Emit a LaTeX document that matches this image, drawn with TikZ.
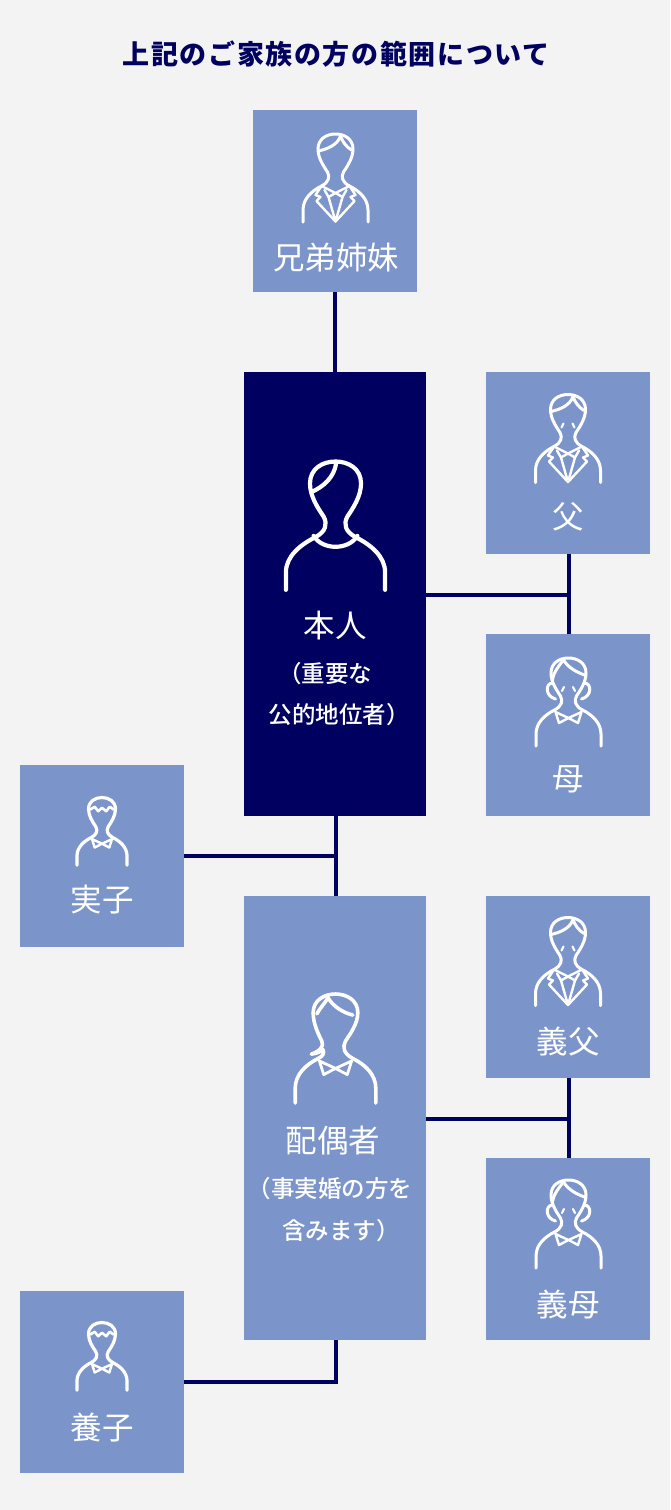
\documentclass[tikz,border=0pt]{standalone}
\usepackage{fontspec}
\setmainfont{Noto Sans CJK JP}
\newfontfamily\medfont{Noto Sans CJK JP Medium}
\usetikzlibrary{calc}

\definecolor{pagegray}{HTML}{F3F3F3}
\definecolor{boxblue}{HTML}{7B95CB}
\definecolor{darknavy}{HTML}{000060}

\newcommand{\bodyline}{(-32.5,88) -- (-32.5,76) .. controls (-32.5,65) and (-24,57) .. (-14,52) .. controls (-6.5,48) and (-5.5,43) .. (-8,38) .. controls (-12,32) and (-17.5,24) .. (-17.5,15) .. controls (-17.5,5) and (-9,0) .. (0,0) .. controls (9,0) and (17.5,5) .. (17.5,15) .. controls (17.5,24) and (12,32) .. (8,38) .. controls (5.5,43) and (6.5,48) .. (14,52) .. controls (24,57) and (32.5,65) .. (32.5,76) -- (32.5,88)}
\newcommand{\bowcollar}{(-13,54) -- (-9.5,65) -- (0,60) -- (9.5,65) -- (13,54) -- (0,60) -- cycle}

\tikzset{
	figline/.style = {draw=white, line width=3pt, line cap=round, line join=round},
	relbox/.style = {rectangle, fill=boxblue, inner sep=0pt, minimum width=164pt, minimum height=182pt},
	widebox/.style = {rectangle, inner sep=0pt, minimum width=182pt, minimum height=444pt},
	bigtext/.style = {text=white, font=\fontsize{31.5}{32}\selectfont, inner sep=0pt},
	smalltext/.style = {text=white, font=\medfont\fontsize{23.5}{24}\selectfont, inner sep=0pt},
	linkline/.style = {draw=darknavy, line width=4pt},
	pics/manfig/.style = {code={
		\draw[figline] \bodyline;
		\draw[figline] (-17,17) .. controls (-8,15) and (2,11) .. (5,2) .. controls (7,8) and (11,13) .. (16,16);
		\draw[figline, line width=2.4pt] (-14,52) -- (-20,61) -- (-15,63) -- (-19,67) -- (0,87.5) -- (19,67) -- (15,63) -- (20,61) -- (14,52) -- (0,59) -- cycle;
		\draw[figline, line width=2.4pt] (-11,56) -- (-7,63) -- (0,59) -- (7,63) -- (11,56);
		\draw[figline, line width=2.4pt] (-7,63) -- (0,87.5) -- (7,63);
	}},
	pics/eyelines/.style = {code={
		\draw[figline, line width=2.2pt] (-6.5,33) -- (-4.5,29);
		\draw[figline, line width=2.2pt] (4.5,29) -- (6.5,33);
	}},
	pics/motherfig/.style = {code={
		\draw[figline] \bodyline;
		\draw[figline] (-5,2) .. controls (-9,7) and (-15,14) .. (-16,22);
		\draw[figline] (-5,2) .. controls (0,10) and (8,14) .. (16,17);
		\draw[figline] (-16,25) .. controls (-23,25) and (-24,38) .. (-13,41);
		\draw[figline] (16,25) .. controls (23,25) and (24,38) .. (13,41);
		\draw[figline, line width=2.4pt] \bowcollar;
		\draw[figline, line width=2.2pt] (-6.5,33) -- (-4.5,29);
		\draw[figline, line width=2.2pt] (4.5,29) -- (6.5,33);
	}},
	pics/selffig/.style = {code={
		\draw[figline, line width=4.2pt] (-34,88) -- (-34,76) .. controls (-34,65) and (-24,57) .. (-14,52) .. controls (-6.5,48) and (-5.5,43) .. (-8,38) .. controls (-12,32) and (-17.5,24) .. (-17.5,15) .. controls (-17.5,5) and (-9,0) .. (0,0) .. controls (9,0) and (17.5,5) .. (17.5,15) .. controls (17.5,24) and (12,32) .. (8,38) .. controls (5.5,43) and (6.5,48) .. (14,52) .. controls (24,57) and (34,65) .. (34,76) -- (34,88);
		\draw[figline, line width=4.2pt] (0.5,1) .. controls (-1,11) and (-8,17) .. (-16.5,21);
		\draw[figline, line width=4.2pt] (-15,51) .. controls (-9,61) and (9,61) .. (15,51);
	}},
	pics/spousefig/.style = {code={
		\draw[figline, line width=3.6pt] (-32.5,88) -- (-32.5,76) .. controls (-32.5,65) and (-24,57) .. (-14,52);
		\draw[figline, line width=3.6pt] (-14,52) .. controls (-10,50) and (-9,48) .. (-10,45) .. controls (-13,47) and (-16,48) .. (-19.5,48.5) .. controls (-13,46) and (-9,43) .. (-11,38) .. controls (-14,32) and (-18,24) .. (-18,15) .. controls (-18,5) and (-9,0) .. (0,0) .. controls (9,0) and (18,5) .. (18,15) .. controls (18,24) and (12,32) .. (8,38) .. controls (5.5,43) and (6.5,48) .. (14,52) .. controls (24,57) and (32.5,65) .. (32.5,76) -- (32.5,88);
		\draw[figline, line width=3.6pt] (-6,3) .. controls (-9,8) and (-13,12) .. (-15,16);
		\draw[figline, line width=3.6pt] (-6,3) .. controls (-2,10) and (6,15) .. (14,17);
		\draw[figline, line width=2.8pt] \bowcollar;
	}},
	pics/childfig/.style = {code={
		\draw[figline, line width=3.2pt] \bodyline;
		\draw[figline, line width=2.6pt] (-15,15.5) -- (-9.5,12) -- (-5,17.8) -- (0,13.4) -- (5.5,17.8) -- (10,12) -- (15,15.5);
		\draw[figline, line width=2.4pt] \bowcollar;
	}}
}

\begin{document}
\begin{tikzpicture}[x=1pt, y=-1pt]
\node[rectangle, fill=pagegray, inner sep=0pt, minimum width=670pt, minimum height=1510pt] (page) at (335,755) {};

\node[text=darknavy, inner sep=0pt, font=\fontsize{27}{27}\bfseries\selectfont\addfontfeature{LetterSpace=6}] (title) at (336,54) {上記のご家族の方の範囲について};

% boxes
\node[relbox] (sibling) at (335,201) {};
\node[widebox, fill=darknavy] (self) at (335,594) {};
\node[widebox, fill=boxblue] (spouse) at (335,1118) {};
\node[relbox] (father) at (568,463) {};
\node[relbox] (mother) at (568,725) {};
\node[relbox] (fatherlaw) at (568,987) {};
\node[relbox] (motherlaw) at (568,1249) {};
\node[relbox] (child) at (102,856) {};
\node[relbox] (adopted) at (102,1382) {};

% connectors
\coordinate (selfjoin) at (569,595);
\coordinate (spousejoin) at (569,1119);
\coordinate (trunktop) at (336,816);
\coordinate (trunkbot) at (336,896);
\coordinate (childjoin) at (336,856);
\coordinate (spousefoot) at (336,1340);

\draw[linkline] (sibling.south) -- (self.north);
\draw[linkline] (trunktop) -- (trunkbot);
\draw[linkline] (child.east) -- (childjoin);
\draw[linkline] (self.east |- selfjoin) -- (selfjoin);
\draw[linkline] (selfjoin |- father.south) -- (selfjoin |- mother.north);
\draw[linkline] (spouse.east |- spousejoin) -- (spousejoin);
\draw[linkline] (spousejoin |- fatherlaw.south) -- (spousejoin |- motherlaw.north);
\draw[linkline] (adopted.east) -| (spousefoot);

% figures
\pic (siblingfig) at (335.5,134) {manfig};
\pic (fatherfig) at (568,394.5) {manfig};
\pic (fathereyes) at (568,394.5) {eyelines};
\pic (motherfig) at (568.5,658) {motherfig};
\pic (fatherlawfig) at (568,917.5) {manfig};
\pic (fatherlaweyes) at (568,917.5) {eyelines};
\pic (motherlawfig) at (568.5,1180) {motherfig};
\pic[scale=1.458] (selffig) at (335.5,461.5) {selffig};
\pic[scale=1.24] (spousefig) at (335.5,994) {spousefig};
\pic[scale=0.77] (childfig) at (102,797.5) {childfig};
\pic[scale=0.77] (adoptedfig) at (102,1322.5) {childfig};

% labels
\node[bigtext] (siblingtext) at (336,258) {兄弟姉妹};
\node[bigtext] (selftext) at (335,626) {本人};
\node[smalltext] (selfnote) at (325,674) {（重要な};
\node[smalltext] (selfnotetwo) at (339,715) {公的地位者）};
\node[bigtext] (fathertext) at (568,517) {父};
\node[bigtext] (mothertext) at (568,779) {母};
\node[bigtext] (childtext) at (102,900) {実子};
\node[bigtext] (spousetext) at (333,1141) {配偶者};
\node[smalltext] (spousenote) at (330,1189) {（事実婚の方を};
\node[smalltext] (spousenotetwo) at (341,1231) {含みます）};
\node[bigtext] (fatherlawtext) at (568,1042) {義父};
\node[bigtext] (motherlawtext) at (568,1304) {義母};
\node[bigtext] (adoptedtext) at (102,1428) {養子};
\end{tikzpicture}
\end{document}
